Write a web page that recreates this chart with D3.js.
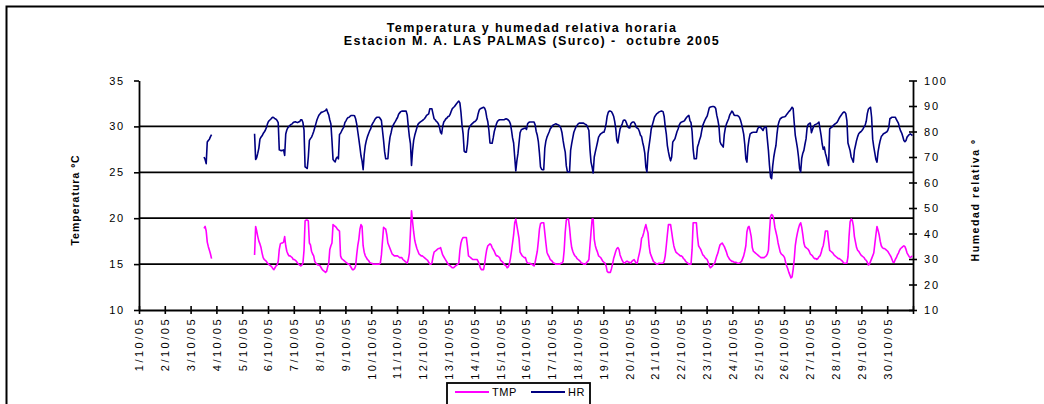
<!DOCTYPE html>
<html><head><meta charset="utf-8">
<script src="https://cdn.jsdelivr.net/npm/d3@7"></script>
<style>
body{margin:0;background:#fff}
svg text{font-family:"Liberation Sans",Arial,sans-serif;fill:#000}
</style></head><body>
<svg id="chart" width="1044" height="404"></svg>
<script>
// Tick labels of the category axis (one per day)
const dayLabels = d3.range(1, 31).map(d => `${d}/10/05`);
const tmpTicks = [10, 15, 20, 25, 30, 35];
const hrTicks = [10, 20, 30, 40, 50, 60, 70, 80, 90, 100];
const gridValues = [15, 20, 25, 30];
const titleLines = ["Temperatura y humedad relativa horaria", "Estacion M. A. LAS PALMAS (Surco) -  octubre 2005"];
const seriesNames = ["TMP", "HR"];

// Hourly temperature (ºC), one row per day of October 2005, hours 0..23; null = no record
const TMP = [
  [],
  [],
  [null,null,null,null,null,null,null,null,null,null,null,null,18.9,19.1,18.6,17.4,16.9,16.5,16.1,15.6],
  [],
  [null,null,null,null,null,null,null,null,null,null,null,16.0,19.1,18.6,18.0,17.5,17.2,16.8,16.2,15.7,15.5,15.4,15.3,15.1],
  [15.0,14.9,14.8,14.7,14.5,14.4,14.6,14.8,14.9,15.3,16.6,17.2,17.3,17.3,17.4,18.0,17.0,16.4,16.1,15.9,15.9,15.8,15.7,15.5],
  [15.5,15.4,15.3,15.1,15.0,14.9,14.8,14.9,15.1,16.5,19.7,19.8,19.8,19.7,17.3,17.1,16.4,16.1,15.9,15.3,15.1,15.0,14.9,14.9],
  [14.8,14.6,14.4,14.3,14.2,14.1,14.2,14.7,15.1,16.6,17.0,17.3,19.3,19.2,19.1,19.0,18.8,18.7,18.6,15.9,15.6,15.5,15.4,15.3],
  [15.2,15.1,15.0,15.0,14.8,14.6,14.4,14.4,14.5,14.8,16.0,17.0,17.7,18.8,19.3,19.1,17.0,16.3,15.9,15.7,15.5,15.4,15.2,15.1],
  [15.1,15.0,15.0,15.0,15.0,15.0,15.0,15.0,15.1,16.0,17.5,19.0,18.9,18.8,18.2,17.3,17.0,16.7,16.4,16.1,16.0,15.9,15.9,15.9],
  [15.9,15.8,15.7,15.7,15.7,15.5,15.4,15.3,15.2,15.1,15.5,16.2,18.5,20.8,19.6,18.5,17.6,17.1,16.7,16.4,16.1,16.0,15.9,15.9],
  [15.8,15.7,15.6,15.5,15.4,15.2,15.0,15.0,15.1,15.8,16.3,16.4,16.5,16.6,16.7,16.7,16.8,16.4,16.0,15.8,15.6,15.4,15.2,15.0],
  [14.9,14.8,14.7,14.6,14.6,14.7,14.8,14.9,15.0,15.1,16.5,17.3,17.7,17.9,17.9,17.9,17.9,17.0,15.9,15.8,15.7,15.6,15.5,15.5],
  [15.5,15.5,15.5,15.3,15.0,14.6,14.4,14.4,14.4,15.0,15.9,16.6,17.0,17.1,17.2,17.1,16.8,16.6,16.4,16.1,15.9,15.9,15.8,15.7],
  [15.4,15.3,15.2,15.0,14.9,14.8,14.6,14.7,15.0,15.6,16.4,17.3,18.2,19.5,19.9,19.2,18.5,17.8,16.3,16.1,15.9,15.8,15.7,15.7],
  [15.3,15.1,15.1,15.1,15.0,15.0,14.9,14.8,15.2,15.8,16.4,17.5,18.8,19.4,19.5,19.5,19.5,18.4,17.3,16.3,16.0,15.8,15.5,15.4],
  [15.3,15.1,15.1,15.0,15.0,15.0,15.0,15.0,15.1,15.1,15.3,16.5,18.5,19.8,19.9,19.9,19.0,17.7,16.8,16.4,16.1,15.9,15.8,15.6],
  [15.5,15.4,15.3,15.1,15.1,15.0,15.0,15.0,15.2,15.3,15.5,17.0,18.5,19.9,19.9,17.7,17.0,16.6,16.3,15.9,15.8,15.7,15.5,15.3],
  [15.2,15.1,14.8,14.2,14.1,14.1,14.1,14.5,15.0,15.6,16.0,16.4,16.7,16.8,16.6,16.0,15.7,15.4,15.2,15.1,15.2,15.3,15.3,15.2],
  [15.2,15.1,15.3,15.4,15.5,15.3,15.1,15.1,15.7,16.2,16.8,17.8,18.0,18.4,18.9,19.3,18.8,18.4,17.0,16.2,15.9,15.6,15.3,15.2],
  [15.1,15.0,15.0,15.1,15.1,15.1,15.1,15.1,15.3,15.9,17.0,18.2,19.3,19.3,19.3,18.5,17.7,17.0,16.6,16.3,16.2,16.1,16.0,15.9],
  [15.9,15.8,15.6,15.5,15.3,15.2,15.1,15.0,15.0,15.0,16.6,19.5,19.5,19.5,19.5,18.0,17.0,16.8,16.6,16.3,16.0,15.9,15.7,15.6],
  [15.5,15.2,14.8,14.6,14.7,14.8,15.0,15.1,15.5,15.9,16.2,16.7,17.1,17.2,17.3,17.1,16.9,16.6,16.3,15.9,15.7,15.5,15.4,15.3],
  [15.3,15.2,15.2,15.2,15.1,15.1,15.1,15.2,15.3,15.6,15.9,16.4,17.0,18.5,19.0,19.1,18.6,18.0,16.8,16.4,16.3,16.2,16.1,16.0],
  [15.9,15.8,15.7,15.7,15.7,15.7,15.8,15.9,16.1,16.5,18.5,20.2,20.4,20.3,19.9,19.0,18.5,18.0,17.3,16.8,16.3,16.1,16.0,15.9],
  [15.7,15.2,14.8,14.5,14.1,13.8,13.5,13.6,14.4,15.5,17.0,17.8,18.4,18.9,19.3,19.5,19.0,18.2,17.3,16.9,16.8,16.7,16.6,16.4],
  [16.1,16.0,15.9,15.7,15.6,15.6,15.5,15.6,15.8,15.9,16.2,16.7,17.0,17.7,18.6,18.6,18.6,17.5,16.5,16.4,16.3,16.2,16.0,15.9],
  [15.8,15.7,15.6,15.6,15.5,15.4,15.3,15.1,15.1,15.1,15.1,15.8,18.0,19.6,19.9,19.8,19.2,18.0,17.4,16.8,16.5,16.4,16.2,16.0],
  [15.9,15.8,15.7,15.5,15.4,15.2,14.9,15.0,15.3,15.6,15.9,16.2,17.2,18.2,19.1,18.7,18.2,17.5,17.0,16.8,16.7,16.7,16.6,16.5],
  [16.4,16.2,16.0,15.8,15.5,15.2,15.2,15.5,15.7,16.0,16.2,16.5,16.7,16.8,16.9,17.0,16.9,16.6,16.2,16.0,15.8,15.7,15.8,15.9]
];

// Hourly relative humidity (%), same layout
const HR = [
  [],
  [],
  [null,null,null,null,null,null,null,null,null,null,null,null,70.0,69.0,67.4,75.9,76.5,77.0,78.0,78.8],
  [],
  [null,null,null,null,null,null,null,null,null,null,null,79.1,69.0,69.8,71.5,73.5,77.0,77.8,78.3,79.2,79.8,80.5,81.5,83.0],
  [84.0,84.4,84.8,85.3,85.6,85.4,85.0,84.8,84.3,83.5,72.8,72.6,72.5,72.6,72.8,70.6,79.0,80.6,81.5,82.0,82.4,82.8,83.0,83.5],
  [83.7,83.8,83.6,83.5,83.7,83.9,84.6,84.6,83.5,80.5,66.1,65.8,65.5,70.0,76.5,77.2,77.8,78.8,80.0,81.5,83.0,84.5,85.6,86.5],
  [87.0,87.5,87.6,87.8,88.0,88.2,88.8,87.5,86.5,84.5,83.0,76.5,69.0,68.5,68.1,69.5,70.0,69.3,78.8,79.3,80.2,81.0,81.7,83.5],
  [84.2,85.0,85.5,85.6,86.0,86.3,86.3,86.3,86.2,85.0,83.0,80.0,77.0,73.9,70.5,68.5,65.0,71.0,74.5,76.5,78.0,79.1,80.2,81.0],
  [82.5,83.3,84.0,84.8,85.3,85.6,85.6,85.6,85.0,84.3,80.4,76.5,72.0,69.3,69.3,69.3,74.5,77.8,79.5,81.5,82.5,83.3,84.0,84.8],
  [85.5,86.8,87.3,87.8,88.0,88.0,88.0,88.0,88.0,86.5,82.0,78.0,75.2,66.7,72.6,76.5,78.5,80.0,81.5,82.8,83.3,83.7,84.0,84.3],
  [84.6,85.0,85.6,86.3,86.6,86.9,88.9,88.9,88.9,86.9,85.0,84.6,84.0,83.7,83.0,81.7,79.7,79.1,82.0,83.7,84.3,85.0,85.3,85.9],
  [86.0,86.8,88.0,89.0,89.4,89.8,90.4,91.0,91.5,91.9,91.2,87.5,82.5,79.1,72.3,71.9,71.9,75.0,80.5,81.9,82.4,82.9,83.3,83.7],
  [83.9,84.3,85.0,87.0,88.4,88.9,89.1,89.3,89.5,89.2,88.0,85.5,83.8,80.4,75.5,75.4,75.4,77.5,80.0,81.5,83.0,84.0,84.4,84.6],
  [84.6,84.6,84.6,84.6,84.8,85.0,84.8,84.5,84.0,83.0,80.5,77.5,75.5,70.0,64.5,68.5,71.3,75.5,79.5,80.6,80.9,81.1,81.3,81.4],
  [80.8,83.0,83.5,83.7,83.7,83.7,83.7,83.7,82.6,80.0,78.5,76.0,71.5,66.1,65.2,65.0,65.0,73.5,76.3,77.8,78.8,79.8,81.0,81.6],
  [82.2,82.6,82.8,83.0,82.9,82.7,82.5,82.0,81.2,79.5,76.5,74.0,71.9,66.5,64.3,64.1,64.1,72.6,75.2,77.5,79.7,80.8,81.8,82.4],
  [83.0,83.3,83.3,83.3,83.3,83.3,83.0,82.8,82.4,81.5,80.4,73.0,68.0,66.0,63.7,70.0,72.0,73.9,75.8,77.8,78.5,79.1,79.4,79.7],
  [79.7,81.0,83.0,86.0,87.5,88.0,88.0,87.8,87.0,86.0,84.0,81.0,76.5,75.5,78.5,81.0,82.0,83.0,84.3,84.5,84.3,83.3,82.0,81.5],
  [81.4,83.0,83.5,83.7,83.7,83.0,81.7,81.3,81.0,80.0,78.5,78.0,75.8,74.0,71.5,66.0,64.1,71.3,74.5,77.5,81.0,82.5,84.0,85.6],
  [86.3,86.9,87.2,87.6,87.8,88.0,88.0,87.8,86.0,82.0,79.1,74.5,72.0,70.0,68.5,70.0,75.8,76.5,77.1,78.5,80.0,81.0,82.5,83.3],
  [83.7,83.8,84.0,84.3,85.0,85.6,86.0,86.3,84.3,83.5,80.0,73.0,69.3,69.3,69.3,73.9,75.2,76.8,78.0,80.4,82.4,83.5,84.5,85.3],
  [86.0,87.6,89.3,89.6,89.7,89.8,89.8,89.6,89.0,86.3,84.5,82.0,76.0,75.0,74.5,73.9,79.0,81.5,83.0,84.0,85.0,86.5,87.2,88.0],
  [87.5,86.5,86.3,86.3,86.3,86.0,85.6,84.5,83.0,81.0,79.0,75.0,69.3,68.0,74.0,77.0,79.1,79.4,79.6,79.7,79.7,79.7,79.7,81.0],
  [81.7,81.7,81.5,81.0,80.4,81.5,81.7,81.7,77.0,72.6,66.7,62.1,61.5,66.5,70.0,72.5,74.5,79.1,82.5,84.0,85.0,85.3,85.6,85.7],
  [85.8,86.0,86.7,87.2,87.8,88.2,88.8,89.5,89.0,83.5,78.5,76.0,73.5,70.0,65.5,64.1,69.5,71.5,72.6,75.0,77.1,81.5,82.8,83.1],
  [83.3,79.5,80.8,82.0,82.6,82.8,83.0,83.3,83.7,81.0,78.5,75.2,73.0,73.9,71.5,70.0,68.0,66.7,81.0,81.4,81.7,82.2,82.6,83.0],
  [83.3,83.7,84.5,85.3,86.0,86.6,87.2,87.6,87.6,87.0,84.3,75.5,74.0,72.5,70.0,69.0,68.0,72.6,74.5,76.5,78.0,79.1,79.6,79.9],
  [80.4,81.0,81.8,82.5,84.0,87.0,88.7,89.2,89.5,85.6,77.0,74.0,71.5,69.0,68.0,72.0,74.5,76.5,78.0,78.5,79.1,79.3,79.6,79.8],
  [80.4,81.7,85.0,85.3,85.6,85.6,85.6,85.6,84.8,84.0,83.2,81.5,80.2,79.4,78.0,76.5,76.0,76.5,77.8,78.3,78.8,79.1,78.8,78.4]
];

// Flatten day rows into one hourly series (index = hours since 1 Oct 00:00)
const hourly = rows => rows.flatMap(row => d3.range(24).map(h => (row[h] ?? null)));
const tmpHourly = hourly(TMP);
const hrHourly = hourly(HR);
const nHours = dayLabels.length * 24;

const svg = d3.select("#chart");
const plot = {left: 139, right: 913, top: 80.5, bottom: 310};

// Outer frame
svg.append("rect").attr("x", 6.5).attr("y", 6.5).attr("width", 1060).attr("height", 420)
  .attr("fill", "none").attr("stroke", "#000").attr("stroke-width", 2);

const x = d3.scaleLinear().domain([0, nHours]).range([plot.left, plot.right]);
const yT = d3.scaleLinear().domain([10, 35]).range([plot.bottom, plot.top]);
const yH = d3.scaleLinear().domain([10, 100]).range([plot.bottom, plot.top]);

// Title
svg.append("g").selectAll("text").data(titleLines).join("text")
  .attr("x", 532).attr("y", (d, i) => 31.5 + i * 13.5)
  .attr("text-anchor", "middle")
  .style("font-weight", "bold").style("font-size", "12.5px").style("letter-spacing", "1.4px")
  .style("white-space", "pre")
  .text(d => d);

// Horizontal gridlines
svg.append("g").selectAll("line").data(gridValues).join("line")
  .attr("x1", plot.left).attr("x2", plot.right)
  .attr("y1", d => yT(d)).attr("y2", d => yT(d))
  .attr("stroke", "#000").attr("stroke-width", 1.8);

const styleAxis = (g, spacing) => {
  g.select(".domain").attr("stroke", "#000").attr("stroke-width", 1.8);
  g.selectAll(".tick line").attr("stroke", "#000").attr("stroke-width", 1.6);
  g.selectAll(".tick text").style("font-size", "11px").style("letter-spacing", spacing)
    .style("font-family", "'Liberation Sans', Arial, sans-serif").attr("fill", "#000");
};

// Left axis (temperature)
const gL = svg.append("g").attr("transform", `translate(${plot.left},0)`)
  .call(d3.axisLeft(yT).tickValues(tmpTicks).tickSize(5).tickSizeOuter(0).tickPadding(9).tickFormat(d3.format("d")));
styleAxis(gL, "1.8px");

// Right axis (humidity), ticks crossing the axis line
const gR = svg.append("g").attr("transform", `translate(${plot.right},0)`)
  .call(d3.axisRight(yH).tickValues(hrTicks).tickSize(4).tickSizeOuter(0).tickPadding(7).tickFormat(d3.format("d")));
gR.selectAll(".tick line").attr("x1", -4);
styleAxis(gR, "1.8px");

// Category axis, one tick per day, labels rotated
const gB = svg.append("g").attr("transform", `translate(0,${plot.bottom})`)
  .call(d3.axisBottom(x).tickValues(d3.range(0, nHours + 1, 24)).tickSize(4).tickSizeOuter(0)
    .tickFormat(h => h / 24 < dayLabels.length ? dayLabels[h / 24] : ""));
gB.selectAll(".tick line").attr("y1", -4);
styleAxis(gB, "2.5px");
gB.selectAll(".tick text")
  .attr("transform", "rotate(-90)").attr("text-anchor", "end")
  .attr("x", -7).attr("y", 0).attr("dy", "0.36em");

// Axis titles
svg.append("text").attr("transform", "translate(79,200) rotate(-90)")
  .attr("text-anchor", "middle").style("font-weight", "bold").style("font-size", "10.5px")
  .style("letter-spacing", "1px").text("Temperatura ºC");
svg.append("text").attr("transform", "translate(979,200) rotate(-90)")
  .attr("text-anchor", "middle").style("font-weight", "bold").style("font-size", "10.5px")
  .style("letter-spacing", "1.6px").text("Humedad relativa º");

// Series lines (gaps where no record)
const lineFor = y => d3.line().defined(d => d != null).x((d, i) => x(i + 0.5)).y(d => y(d));
svg.append("path").datum(hrHourly).attr("fill", "none").attr("stroke", "#000080")
  .attr("stroke-width", 1.6).attr("stroke-linejoin", "round").attr("d", lineFor(yH));
svg.append("path").datum(tmpHourly).attr("fill", "none").attr("stroke", "#FF00FF")
  .attr("stroke-width", 1.6).attr("stroke-linejoin", "round").attr("d", lineFor(yT));

// Legend
const legend = svg.append("g");
legend.append("rect").attr("x", 447).attr("y", 383).attr("width", 143).attr("height", 40)
  .attr("fill", "#fff").attr("stroke", "#000").attr("stroke-width", 1.8);
const items = [{name: seriesNames[0], color: "#FF00FF", x: 455}, {name: seriesNames[1], color: "#000080", x: 531}];
items.forEach(it => {
  legend.append("line").attr("x1", it.x).attr("x2", it.x + 34).attr("y1", 392).attr("y2", 392)
    .attr("stroke", it.color).attr("stroke-width", 1.8);
  legend.append("text").attr("x", it.x + 37).attr("y", 396).style("font-size", "11px")
    .style("letter-spacing", "0.6px").text(it.name);
});
</script></body></html>
